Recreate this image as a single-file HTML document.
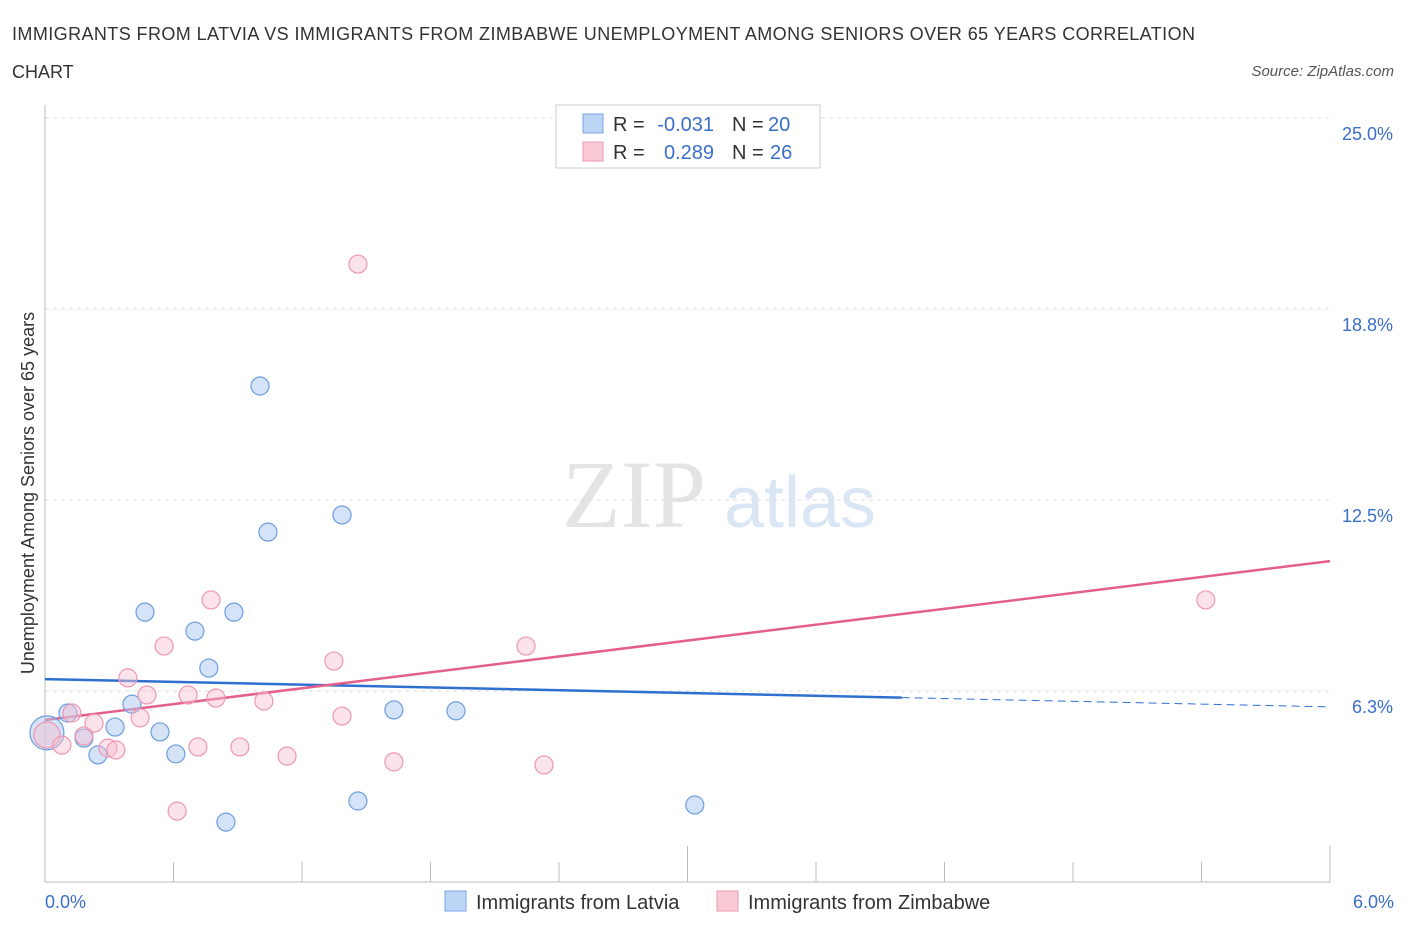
<!DOCTYPE html>
<html><head><meta charset="utf-8"><style>
body{margin:0;background:#fff;font-family:"Liberation Sans",sans-serif;}
svg text{font-family:"Liberation Sans",sans-serif;}
</style></head><body>
<svg width="1406" height="930" id="chart">
<text x="12" y="40" font-size="18" fill="#333" textLength="1183">IMMIGRANTS FROM LATVIA VS IMMIGRANTS FROM ZIMBABWE UNEMPLOYMENT AMONG SENIORS OVER 65 YEARS CORRELATION</text>
<text x="12" y="78" font-size="18" fill="#333">CHART</text>
<text x="1394" y="76" font-size="15" fill="#555" font-style="italic" text-anchor="end">Source: ZipAtlas.com</text>
<text x="634" y="527" font-size="96" fill="#e4e4e4" text-anchor="middle" style="font-family:'Liberation Serif',serif">ZIP</text>
<text x="800" y="527" font-size="72" fill="#dbe6f5" text-anchor="middle">atlas</text>
<g id="grid"></g><g id="axes"></g><g id="lines"></g><g id="pts"></g>
<text transform="translate(34,493) rotate(-90)" font-size="18" fill="#333" text-anchor="middle">Unemployment Among Seniors over 65 years</text>
<text x="45" y="908" font-size="18" fill="#3a6fc9">0.0%</text>
<text x="1394" y="908" font-size="18" fill="#3a6fc9" text-anchor="end">6.0%</text>
<g>
<rect x="556" y="105" width="264" height="63" fill="#fff" stroke="#ccc"/>
<rect x="583" y="114" width="20" height="19" fill="#bcd4f5" stroke="#7aa6e6"/>
<rect x="583" y="142" width="20" height="19" fill="#f9c9d6" stroke="#eb9ab2"/>
<text x="613" y="131" font-size="20" fill="#333">R =</text>
<text x="714" y="131" font-size="20" fill="#3a6fc9" text-anchor="end">-0.031</text>
<text x="732" y="131" font-size="20" fill="#333">N =</text>
<text x="768" y="131" font-size="20" fill="#3a6fc9">20</text>
<text x="613" y="159" font-size="20" fill="#333">R =</text>
<text x="714" y="159" font-size="20" fill="#3a6fc9" text-anchor="end">0.289</text>
<text x="732" y="159" font-size="20" fill="#333">N =</text>
<text x="770" y="159" font-size="20" fill="#3a6fc9">26</text>
</g>
<g>
<rect x="445" y="891" width="21" height="20" fill="#bcd4f5" stroke="#7aa6e6"/>
<text x="476" y="909" font-size="20" fill="#333">Immigrants from Latvia</text>
<rect x="717" y="891" width="21" height="20" fill="#f9c9d6" stroke="#eb9ab2"/>
<text x="748" y="909" font-size="20" fill="#333">Immigrants from Zimbabwe</text>
</g>
</svg>
<script>
const yTicks=[25.0,18.75,12.5,6.25];
const yTickLabels=["25.0%","18.8%","12.5%","6.3%"];
const latviaX=[0.009,0.107,0.182,0.247,0.327,0.406,0.467,0.537,0.611,0.700,0.765,0.845,0.882,1.004,1.041,1.387,1.461,1.629,1.919,3.034];
const latviaY=[4.88,5.53,4.71,4.16,5.07,5.82,8.83,4.91,4.19,8.21,7.00,1.96,8.83,16.23,11.45,12.01,2.65,5.63,5.60,2.52];
const zimX=[0.009,0.079,0.126,0.182,0.229,0.294,0.331,0.387,0.444,0.476,0.556,0.617,0.668,0.714,0.775,0.798,0.910,1.022,1.130,1.349,1.387,1.461,1.629,2.246,2.330,5.420];
const zimY=[4.81,4.48,5.53,4.78,5.20,4.38,4.32,6.68,5.37,6.12,7.72,2.32,6.12,4.42,9.23,6.02,4.42,5.92,4.12,7.23,5.43,20.22,3.93,7.72,3.83,9.23];
const latviaTrend=[6.64,5.73];
const zimTrend=[5.30,10.50];
const X=v=>45+v*214.17, Y=v=>882-v*30.56;
const NS="http://www.w3.org/2000/svg";
function mk(t,a,p){const e=document.createElementNS(NS,t);for(const k in a)e.setAttribute(k,a[k]);document.getElementById(p).appendChild(e);return e;}
yTicks.forEach((t,i)=>{
 const g=mk('line',{x1:45,x2:1330,y1:Y(t),y2:Y(t),stroke:'#ddd','stroke-dasharray':'4,4'},'grid');
 
 
 const tx=mk('text',{x:1393,y:Y(t)+22,'font-size':18,fill:'#3a6fc9','text-anchor':'end'},'grid');
 tx.textContent=yTickLabels[i];
 
 
});
let a=mk('line',{x1:45,x2:45,y1:105,y2:882,stroke:'#bbb'},'axes');


a=mk('line',{x1:45,x2:1330,y1:882,y2:882,stroke:'#bbb'},'axes');


for(let i=0;i<=10;i++){const x=45+i*128.5;const t=mk('line',{x1:x,x2:x,y1:882,y2:i==5||i==10?846:862,stroke:'#bbb'},'axes');
 
 }
let l=mk('line',{x1:X(0),y1:Y(latviaTrend[0]),x2:X(4.0),y2:Y(latviaTrend[0]+(latviaTrend[1]-latviaTrend[0])*4/6),stroke:'#2f6fd0','stroke-width':2.5},'lines');


l=mk('line',{x1:X(4.0),y1:Y(latviaTrend[0]+(latviaTrend[1]-latviaTrend[0])*4/6),x2:X(6),y2:Y(latviaTrend[1]),stroke:'#2f6fd0','stroke-width':1,'stroke-dasharray':'8,5'},'lines');


l=mk('line',{x1:X(0),y1:Y(zimTrend[0]),x2:X(6),y2:Y(zimTrend[1]),stroke:'#e3608a','stroke-width':2.5},'lines');


latviaX.forEach((x,i)=>{const c=mk('circle',{cx:X(x),cy:Y(latviaY[i]),r:i==0?17:9,fill:'rgba(170,200,240,0.5)',stroke:'#6d9de0','stroke-width':1.2},'pts');
 
 });
zimX.forEach((x,i)=>{const c=mk('circle',{cx:X(x),cy:Y(zimY[i]),r:i==0?13:9,fill:'rgba(248,190,208,0.45)',stroke:'#ec98b2','stroke-width':1.2},'pts');
 
 });
</script>
</body></html>
